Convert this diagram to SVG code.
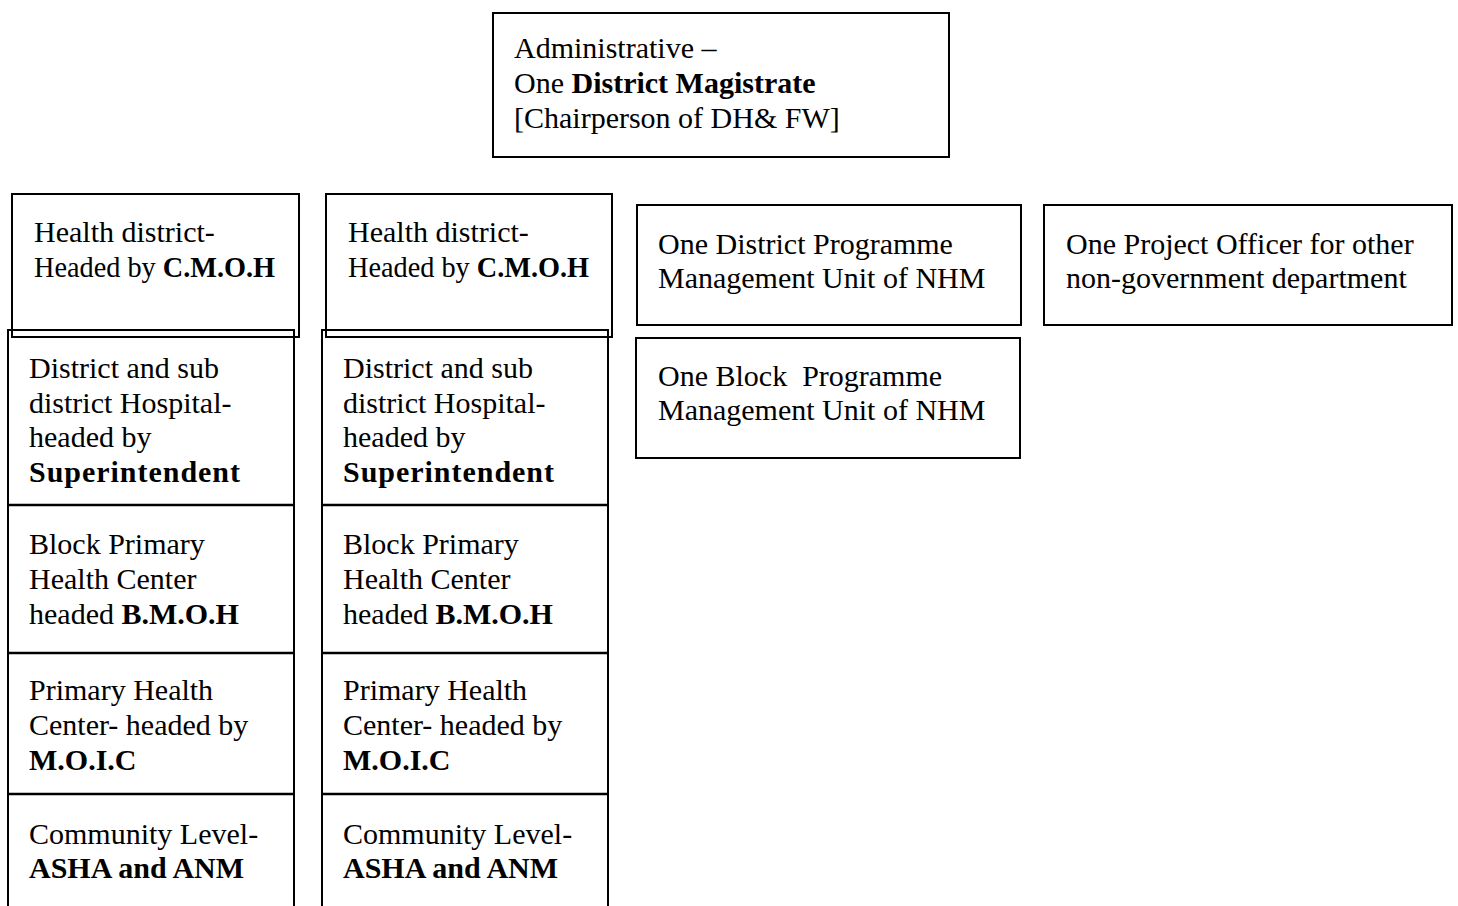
<svg xmlns="http://www.w3.org/2000/svg" width="1458" height="906" viewBox="0 0 1458 906">
<style>
rect{fill:#fff;stroke:#000;stroke-width:2}
line{stroke:#000;stroke-width:2.5}
text{font-family:"Liberation Serif",serif;font-size:30px;fill:#000}
.b{font-weight:bold}
</style>
<rect x="0" y="0" width="1458" height="906" style="stroke:none"/>
<g id="admin">
<rect x="493" y="13" width="456" height="144"/>
<text x="514" y="58">Administrative –</text>
<text x="514" y="93">One <tspan class="b">District Magistrate</tspan></text>
<text x="514" y="128">[Chairperson of DH&amp; FW]</text>
</g>
<g id="col1">
<rect x="8" y="330" width="286" height="600"/>
<rect x="12" y="194" width="287" height="143" style="fill:none"/>
<text x="34" y="242">Health district-</text>
<text x="34" y="277" textLength="241" lengthAdjust="spacingAndGlyphs">Headed by <tspan class="b">C.M.O.H</tspan></text>
</g>
<g id="col2">
<rect x="322" y="330" width="286" height="600"/>
<rect x="326" y="194" width="286" height="143" style="fill:none"/>
<text x="348" y="242">Health district-</text>
<text x="348" y="277" textLength="241" lengthAdjust="spacingAndGlyphs">Headed by <tspan class="b">C.M.O.H</tspan></text>
</g>
<g id="connectors">
<line x1="8" y1="505" x2="294" y2="505"/>
<line x1="8" y1="653" x2="294" y2="653"/>
<line x1="8" y1="794" x2="294" y2="794"/>
<line x1="322" y1="505" x2="608" y2="505"/>
<line x1="322" y1="653" x2="608" y2="653"/>
<line x1="322" y1="794" x2="608" y2="794"/>
</g>
<g id="hospital1">
<text x="29" y="378">District and sub</text>
<text x="29" y="412.5">district Hospital-</text>
<text x="29" y="447">headed by</text>
<text x="29" y="481.5" class="b" textLength="211" lengthAdjust="spacing">Superintendent</text>
</g>
<g id="hospital2">
<text x="343" y="378">District and sub</text>
<text x="343" y="412.5">district Hospital-</text>
<text x="343" y="447">headed by</text>
<text x="343" y="481.5" class="b" textLength="211" lengthAdjust="spacing">Superintendent</text>
</g>
<g id="bphc1">
<text x="29" y="554">Block Primary</text>
<text x="29" y="589">Health Center</text>
<text x="29" y="624">headed <tspan class="b">B.M.O.H</tspan></text>
</g>
<g id="bphc2">
<text x="343" y="554">Block Primary</text>
<text x="343" y="589">Health Center</text>
<text x="343" y="624">headed <tspan class="b">B.M.O.H</tspan></text>
</g>
<g id="phc1">
<text x="29" y="700">Primary Health</text>
<text x="29" y="735">Center- headed by</text>
<text x="29" y="770" class="b">M.O.I.C</text>
</g>
<g id="phc2">
<text x="343" y="700">Primary Health</text>
<text x="343" y="735">Center- headed by</text>
<text x="343" y="770" class="b">M.O.I.C</text>
</g>
<g id="community1">
<text x="29" y="844">Community Level-</text>
<text x="29" y="878" class="b">ASHA and ANM</text>
</g>
<g id="community2">
<text x="343" y="844">Community Level-</text>
<text x="343" y="878" class="b">ASHA and ANM</text>
</g>
<g id="dpmu">
<rect x="637" y="205" width="384" height="120"/>
<text x="658" y="254">One District Programme</text>
<text x="658" y="288">Management Unit of NHM</text>
</g>
<g id="bpmu">
<rect x="636" y="338" width="384" height="120"/>
<text x="658" y="386" xml:space="preserve">One Block  Programme</text>
<text x="658" y="420">Management Unit of NHM</text>
</g>
<g id="project">
<rect x="1044" y="205" width="408" height="120"/>
<text x="1066" y="254">One Project Officer for other</text>
<text x="1066" y="288">non-government department</text>
</g>
</svg>
